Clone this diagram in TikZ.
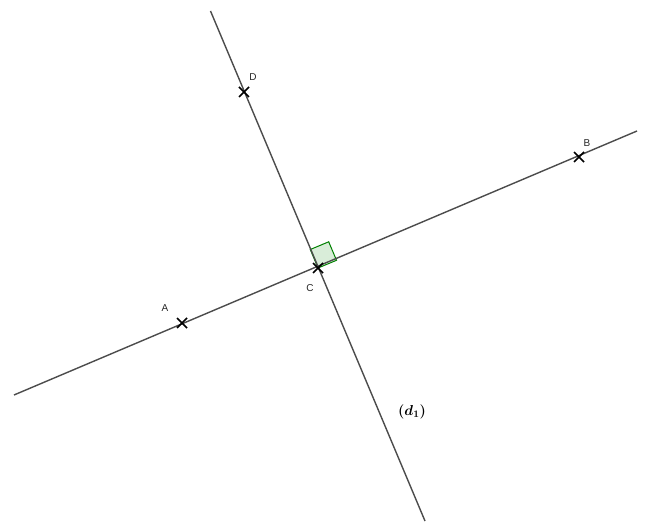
\documentclass[tikz,border=0pt]{standalone}
\usepackage{fontspec}
\usetikzlibrary{calc}
\newfontfamily\lblfont{Liberation Sans}
\begin{document}
\begin{tikzpicture}[x=1pt,y=-1pt,
  ligne/.style={draw=black!70, line width=1.4pt},
  croix/.style={draw=black, line width=1.6pt},
  lbl/.style={font=\lblfont\fontsize{10}{10}\selectfont, text=black!85, inner sep=0pt},
  angledroit/.style={draw=green!50!black, fill=green!55!black, fill opacity=0.15, line width=1pt}]
\useasboundingbox (0,0) rectangle (645,526);
\fill[white] (0,0) rectangle (645,526);
% points
\coordinate (A) at (182,323);
\coordinate (B) at (579,157);
\coordinate (C) at (318,268);
\coordinate (D) at (244,92);
% line ends
\coordinate (L1) at (14,395);
\coordinate (L2) at (637,131);
\coordinate (P1) at (210.5,11);
\coordinate (P2) at (425,521);
% right angle corners
\coordinate (R1) at (336.5,260.3);
\coordinate (R2) at (328.7,241.8);
\coordinate (R3) at (310.3,249.5);
% right angle mark
\path[angledroit] (C) -- (R1) -- (R2) -- (R3) -- cycle;
% lines
\draw[ligne] (L1) -- (L2);
\draw[ligne] (P1) -- (P2);
% crosses
\foreach \p in {A,B,C,D}{
  \draw[croix] ($(\p)+(-5,-5)$) -- ($(\p)+(5,5)$);
  \draw[croix] ($(\p)+(-5,5)$) -- ($(\p)+(5,-5)$);
}
% labels
\node[lbl] (lA) at (165,308) {A};
\node[lbl] (lB) at (587,143) {B};
\node[lbl] (lC) at (310,288) {C};
\node[lbl] (lD) at (253,77) {D};
\node[inner sep=0pt, font=\fontsize{14}{14}\selectfont\boldmath] (ld) at (412,412) {$(d_1)$};
\end{tikzpicture}
\end{document}
